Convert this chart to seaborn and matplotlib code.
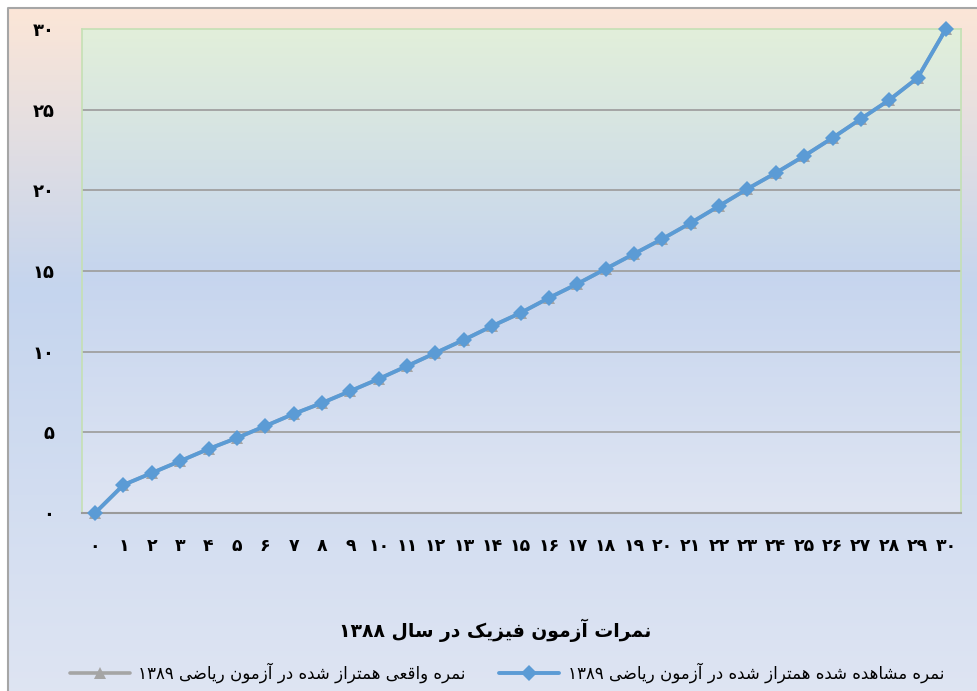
import numpy as np
import seaborn as sns
import matplotlib.pyplot as plt
from matplotlib.colors import LinearSegmentedColormap

# Raw scores (x axis) and equated scores
scores = list(range(31))
observed = [0, 1.74, 2.48, 3.22, 3.97, 4.65, 5.39, 6.14, 6.82, 7.56, 8.31,
            9.11, 9.92, 10.73, 11.59, 12.40, 13.33, 14.20, 15.13, 16.06, 16.99,
            17.98, 19.03, 20.09, 21.08, 22.13, 23.25, 24.43, 25.60, 26.97, 30]
actual = [0, 1.74, 2.48, 3.22, 3.97, 4.65, 5.39, 6.14, 6.82, 7.56, 8.31,
          9.11, 9.92, 10.73, 11.59, 12.40, 13.33, 14.20, 15.13, 16.06, 16.99,
          17.98, 19.03, 20.09, 21.08, 22.13, 23.25, 24.43, 25.60, 26.97, 30]
y_ticks = [0, 5, 10, 15, 20, 25, 30]

title_text = "نمرات آزمون فیزیک در سال ۱۳۸۸"
label_actual = "نمره واقعی همتراز شده در آزمون ریاضی ۱۳۸۹"
label_observed = "نمره مشاهده شده همتراز شده در آزمون ریاضی ۱۳۸۹"

FA_DIGITS = str.maketrans("0123456789", "۰۱۲۳۴۵۶۷۸۹")

# matplotlib has no Arabic shaping, so pick presentation forms by hand
FORMS = {
    "ا": ("\uFE8D", "\uFE8E"),
    "آ": ("\uFE81", "\uFE82"),
    "د": ("\uFEA9", "\uFEAA"),
    "ر": ("\uFEAD", "\uFEAE"),
    "ز": ("\uFEAF", "\uFEB0"),
    "و": ("\uFEED", "\uFEEE"),
    "ت": ("\uFE95", "\uFE96", "\uFE97", "\uFE98"),
    "س": ("\uFEB1", "\uFEB2", "\uFEB3", "\uFEB4"),
    "ش": ("\uFEB5", "\uFEB6", "\uFEB7", "\uFEB8"),
    "ض": ("\uFEBD", "\uFEBE", "\uFEBF", "\uFEC0"),
    "ع": ("\uFEC9", "\uFECA", "\uFECB", "\uFECC"),
    "ف": ("\uFED1", "\uFED2", "\uFED3", "\uFED4"),
    "ق": ("\uFED5", "\uFED6", "\uFED7", "\uFED8"),
    "ل": ("\uFEDD", "\uFEDE", "\uFEDF", "\uFEE0"),
    "م": ("\uFEE1", "\uFEE2", "\uFEE3", "\uFEE4"),
    "ن": ("\uFEE5", "\uFEE6", "\uFEE7", "\uFEE8"),
    "ه": ("\uFEE9", "\uFEEA", "\uFEEB", "\uFEEC"),
    "ک": ("\uFB8E", "\uFB8F", "\uFB90", "\uFB91"),
    "ی": ("\uFBFC", "\uFBFD", "\uFBFE", "\uFBFF"),
}


def shape(text):
    words = []
    for word in text.split(" "):
        if word and word[0] in "۰۱۲۳۴۵۶۷۸۹":
            words.append(word)
            continue
        out = []
        for i, ch in enumerate(word):
            f = FORMS.get(ch)
            if f is None:
                out.append(ch)
                continue
            prev = word[i - 1] if i > 0 else None
            nxt = word[i + 1] if i + 1 < len(word) else None
            jp = prev is not None and len(FORMS.get(prev, ())) == 4
            jn = len(f) == 4 and nxt in FORMS
            if jp and jn:
                out.append(f[3])
            elif jp:
                out.append(f[1])
            elif jn:
                out.append(f[2])
            else:
                out.append(f[0])
        words.append("".join(reversed(out)))
    return " ".join(reversed(words))


sns.set_theme(style="white")
plt.rcParams["font.family"] = ["DejaVu Sans"]
plt.rcParams["text.color"] = "black"
plt.rcParams["xtick.color"] = "black"
plt.rcParams["ytick.color"] = "black"

fig = plt.figure(figsize=(9.77, 6.91), dpi=100, facecolor="white")

# chart background (peach -> blue -> pale blue)
bg = fig.add_axes([8 / 977, -0.02, 1.02, 1.02 - 8 / 691], zorder=-10)
outer_cmap = LinearSegmentedColormap.from_list(
    "outer", [(0, "#fce6d7"), (0.40, "#c5d5ee"), (1, "#dfe5f3")])
bg.imshow(np.linspace(0, 1, 256).reshape(-1, 1), cmap=outer_cmap,
          aspect="auto", extent=[0, 1, 0, 1], origin="upper")
bg.set_xlim(0, 1)
bg.set_ylim(0, 1)
bg.axis("off")
fig.add_artist(plt.Line2D([8 / 977, 8 / 977, 1], [0, 1 - 8 / 691, 1 - 8 / 691],
                          color="#a6a6a6", lw=1.5, transform=fig.transFigure))

ax = fig.add_axes([82 / 977, 1 - 513 / 691, (961 - 82) / 977, (513 - 29) / 691])
ax.set_facecolor("none")
inner_cmap = LinearSegmentedColormap.from_list(
    "inner", [(0, "#e2efda"), (0.5, "#c6d5ee"), (1, "#dfe5f3")])
ax.imshow(np.linspace(0, 1, 256).reshape(-1, 1), cmap=inner_cmap,
          aspect="auto", extent=[0, 1, 0, 1], origin="upper",
          transform=ax.transAxes, zorder=0)

for v in y_ticks[1:-1]:
    ax.axhline(v, color="#a0a0a0", lw=1.3, zorder=1)

sns.lineplot(x=scores, y=actual, ax=ax, color="#a5a5a5", lw=2.6,
             marker="^", markersize=8.5, markeredgewidth=0,
             label=shape(label_actual), zorder=3, clip_on=False)
sns.lineplot(x=scores, y=observed, ax=ax, color="#5b9bd5", lw=2.8,
             marker="D", markersize=8, markeredgewidth=0,
             label=shape(label_observed), zorder=4, clip_on=False)

ax.set_xlim(-0.46, 30.53)
ax.set_ylim(0, 30)
ax.set_xticks(scores)
ax.set_xticklabels([str(s).translate(FA_DIGITS) for s in scores],
                   fontsize=12.5, fontweight="bold")
ax.set_yticks(y_ticks)
ax.set_yticklabels([str(v).translate(FA_DIGITS) for v in y_ticks],
                   fontsize=13, fontweight="bold")
ax.tick_params(axis="x", length=0, pad=17)
ax.tick_params(axis="y", length=0, pad=20)
ax.set_xlabel("")
ax.set_ylabel("")

for side in ["top", "left", "right"]:
    ax.spines[side].set_color("#c5e0b4")
    ax.spines[side].set_linewidth(1.2)
ax.spines["bottom"].set_color("#9a9a9a")
ax.spines["bottom"].set_linewidth(1.5)

ax.get_legend().remove()
fig.text(495 / 977, 1 - 630 / 691, shape(title_text), ha="center", va="center",
         fontsize=13.5, fontweight="bold")

handles, labels = ax.get_legend_handles_labels()
fig.legend(handles, labels, loc="center", bbox_to_anchor=(507 / 977, 1 - 673 / 691),
           ncol=2, frameon=False, fontsize=12, handlelength=3.6,
           columnspacing=2.0, handletextpad=0.5)

fig.savefig("out.png", dpi=100)
